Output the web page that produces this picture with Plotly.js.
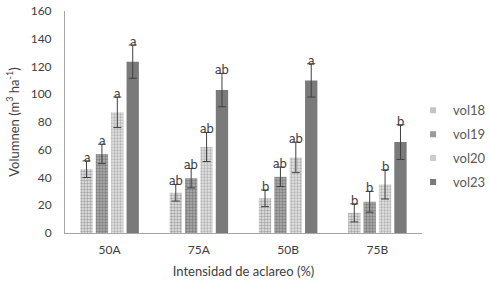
<!DOCTYPE html>
<html><head><meta charset="utf-8">
<script src="https://cdn.plot.ly/plotly-3.0.1.min.js"></script>
<style>html,body{margin:0;padding:0;background:#fff}#chart{width:490px;height:282px}</style>
</head><body><div id="chart"></div>
<script>
var categories = ['50A', '75A', '50B', '75B'];
var seriesNames = ['vol18', 'vol19', 'vol20', 'vol23'];
var vol18 = [46, 29, 25, 14.5];
var vol19 = [57, 39.5, 40.5, 22.5];
var vol20 = [87, 62, 54.5, 35];
var vol23 = [123.5, 103, 110, 65.5];
var err18 = [6, 6, 6, 6.5];
var err19 = [7, 7, 7, 7.5];
var err20 = [11, 10.5, 11, 10.5];
var err23 = [12, 12, 12, 12.5];
var letters18 = ['a', 'ab', 'b', 'b'];
var letters19 = ['a', 'ab', 'ab', 'b'];
var letters20 = ['a', 'ab', 'ab', 'b'];
var letters23 = ['a', 'ab', 'a', 'b'];

var values = [vol18, vol19, vol20, vol23];
var errs = [err18, err19, err20, err23];
var letters = [letters18, letters19, letters20, letters23];
var styles = [
  {color: '#e6e6e6', swatch: '#c4c4c4', pattern: {shape: '.', fgcolor: '#a6a6a6', bgcolor: '#e6e6e6', size: 3, solidity: 0.5}},
  {color: '#aaaaaa', swatch: '#999999', pattern: {shape: '.', fgcolor: '#7f7f7f', bgcolor: '#b0b0b0', size: 3, solidity: 0.5}},
  {color: '#e0e0e0', swatch: '#cccccc', pattern: {shape: '.', fgcolor: '#b2b2b2', bgcolor: '#e3e3e3', size: 3, solidity: 0.45}},
  {color: '#7a7a7a', swatch: '#7a7a7a'}
];
var bargap = 0.31;
var font = 'Lato, "Open Sans", sans-serif';

var traces = seriesNames.map(function (n, j) {
  var m = {color: styles[j].color, line: {width: 0}};
  if (styles[j].pattern) m.pattern = styles[j].pattern;
  return {
    type: 'bar', name: n, x: categories, y: values[j], showlegend: false,
    marker: m,
    error_y: {type: 'data', array: errs[j], visible: true, color: '#404040', thickness: 1, width: 4}
  };
});
// legend entries: small square swatches like the reference
seriesNames.forEach(function (n, j) {
  traces.push({
    type: 'scatter', mode: 'markers', name: n, x: [null], y: [null],
    legendgroup: n, showlegend: true,
    marker: {symbol: 'square', size: 6, color: styles[j].swatch}
  });
});

var slot = (1 - bargap) / seriesNames.length;
var annotations = [];
seriesNames.forEach(function (n, j) {
  categories.forEach(function (c, i) {
    annotations.push({
      xref: 'x', yref: 'y',
      x: i + (j - (seriesNames.length - 1) / 2) * slot,
      y: values[j][i] + errs[j][i],
      text: letters[j][i], showarrow: false,
      yanchor: 'bottom', yshift: -6,
      font: {family: font, size: 13, color: '#3f3f3f'}
    });
  });
});

var layout = {
  width: 490, height: 282,
  margin: {l: 65, r: 68, t: 11, b: 49, autoexpand: false},
  paper_bgcolor: '#fff', plot_bgcolor: '#fff',
  barmode: 'group', bargap: bargap, bargroupgap: 0.2,
  showlegend: true,
  legend: {x: 0.975, y: 0.62, xanchor: 'left', yanchor: 'top', traceorder: 'grouped', tracegroupgap: 4,
    font: {family: font, size: 13, color: '#595959'}, itemwidth: 30},
  xaxis: {
    showline: true, linecolor: '#a6a6a6', linewidth: 1, ticks: '', ticklabelstandoff: 6,
    tickfont: {family: font, size: 12, color: '#404040'},
    title: {text: 'Intensidad de aclareo (%)', font: {family: font, size: 13, color: '#404040'}, standoff: 10}
  },
  yaxis: {
    range: [0, 160], dtick: 20, showgrid: false, zeroline: false,
    showline: true, linecolor: '#a6a6a6', linewidth: 1, ticks: '', ticklabelstandoff: 10,
    tickfont: {family: font, size: 12, color: '#404040'},
    title: {text: 'Volumnen (m<sup>3</sup> ha<sup>-1</sup>)', font: {family: font, size: 13, color: '#404040'}, standoff: 8}
  },
  annotations: annotations
};
Plotly.newPlot('chart', traces, layout, {displayModeBar: false, staticPlot: true});
</script></body></html>
